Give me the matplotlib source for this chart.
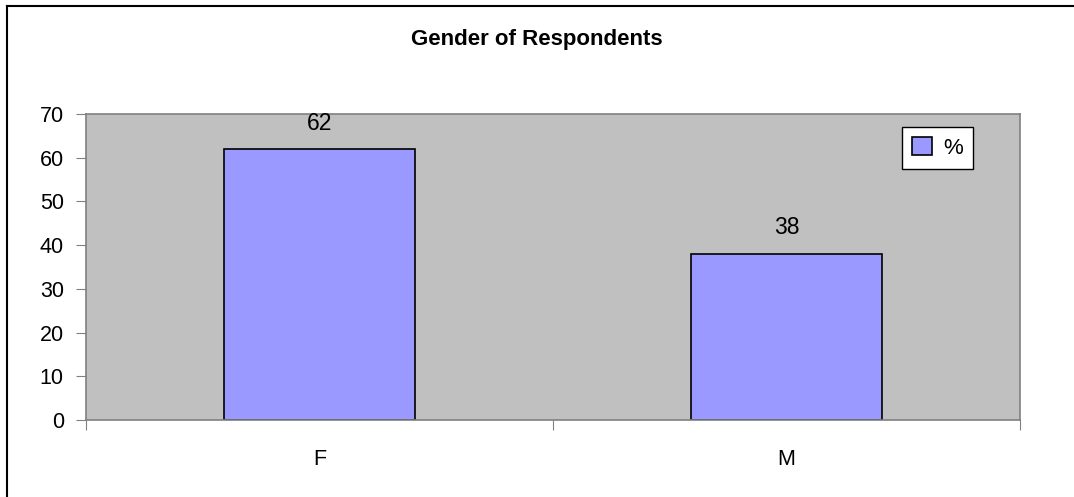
import matplotlib.pyplot as plt
from matplotlib.lines import Line2D

categories = ['F', 'M']
percent = [62, 38]

plt.rcParams['font.family'] = ['Liberation Sans', 'DejaVu Sans']

fig = plt.figure(figsize=(10.74, 4.97), dpi=100)
W, H = 1074, 497
ax = fig.add_axes([86 / W, 1 - 420 / H, (1020 - 86) / W, (420 - 114) / H])
ax.set_facecolor('#C0C0C0')

# chart border: only left and top edges are visible in the crop
fig.add_artist(Line2D([7 / W, 7 / W], [0, 1 - 6 / H], transform=fig.transFigure,
                      color='black', linewidth=1.5))
fig.add_artist(Line2D([7 / W, 1], [1 - 6 / H, 1 - 6 / H], transform=fig.transFigure,
                      color='black', linewidth=1.5))

x = list(range(len(categories)))
bars = ax.bar(x, percent, width=0.41, color='#9999FF', edgecolor='black',
              linewidth=1.2, label='%', zorder=2)

for xi, v in zip(x, percent):
    ax.annotate(f'{v}', (xi, v), xytext=(0, 14), textcoords='offset points',
                ha='center', va='baseline', fontsize=16.5)

ax.set_xlim(-0.5, len(categories) - 0.5)
ax.set_ylim(0, 70)
ax.set_yticks(range(0, 71, 10))
ax.tick_params(axis='y', labelsize=15.5, length=7, color='#808080', pad=9)

# ticks at category boundaries, labels at centres
ax.set_xticks([i - 0.5 for i in range(len(categories) + 1)])
ax.set_xticklabels([])
ax.set_xticks(x, minor=True)
ax.set_xticklabels(categories, minor=True)
ax.tick_params(axis='x', which='major', length=7, color='#808080')
ax.tick_params(axis='x', which='minor', length=0, labelsize=15.5, pad=21)

for side in ['top', 'right', 'left', 'bottom']:
    ax.spines[side].set_color('#808080')
    ax.spines[side].set_linewidth(1.2)

fig.text(0.5, 1 - 40 / H, 'Gender of Respondents', ha='center', va='center',
         fontsize=16, fontweight='bold')

leg = ax.legend(loc='upper right', bbox_to_anchor=((973 - 86) / 934, 1 - 13 / 306),
                borderaxespad=0, fontsize=16, frameon=True, fancybox=False,
                handlelength=0.9, handleheight=0.9, handletextpad=0.5, borderpad=0.45)
leg.get_frame().set_edgecolor('black')
leg.get_frame().set_linewidth(1.0)
leg.get_frame().set_alpha(1)

fig.savefig('out.png', dpi=100)
